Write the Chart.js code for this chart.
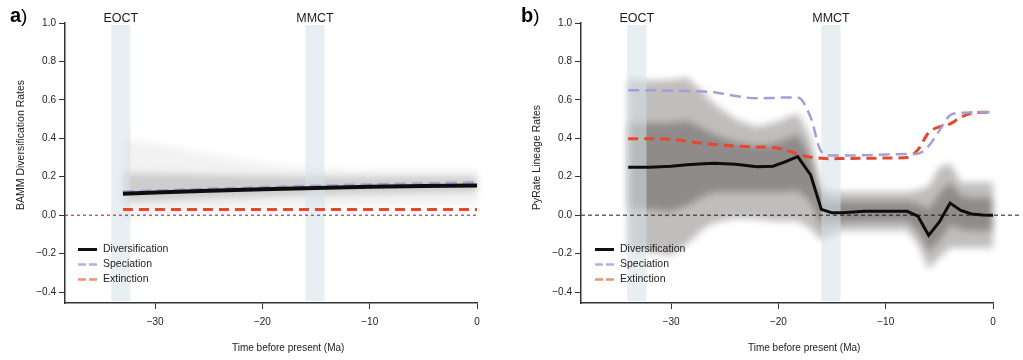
<!DOCTYPE html>
<html>
<head>
<meta charset="utf-8">
<script src="https://cdn.jsdelivr.net/npm/chart.js@4.4.1/dist/chart.umd.min.js"></script>
<style>
  html, body { margin: 0; padding: 0; background: #fff; }
  #wrap { position: relative; width: 1023px; height: 360px; }
  .panel { position: absolute; top: 0; height: 360px; }
  .panel canvas { position: absolute; left: 0; top: 0; }
  .fan { filter: blur(3.5px); }
</style>
</head>
<body>
<div id="wrap">
  <div class="panel" style="left:0;width:511px">
    <canvas id="fanA" class="fan" width="511" height="360"></canvas>
    <canvas id="chartA" width="511" height="360"></canvas>
  </div>
  <div class="panel" style="left:511px;width:512px">
    <canvas id="fanB" class="fan" width="512" height="360"></canvas>
    <canvas id="chartB" width="512" height="360"></canvas>
  </div>
</div>
<script>
// Axis ticks
const xTicks = [-30, -20, -10, 0];
const yTicks = [-0.4, -0.2, 0, 0.2, 0.4, 0.6, 0.8, 1.0];

// Climate events (Ma)
const eventNames = ['EOCT', 'MMCT'];
const eventStart = [-34.1, -16.0];
const eventEnd = [-32.3, -14.2];

const seriesNames = ['Diversification', 'Speciation', 'Extinction'];

// a) BAMM rates
const aTime = [-33, -30, -25, -20, -15, -10, -5, 0];
const aDiv  = [0.112, 0.118, 0.127, 0.135, 0.142, 0.148, 0.152, 0.155];
const aSpec = [0.122, 0.128, 0.137, 0.145, 0.153, 0.16, 0.165, 0.17];
const aExt  = [0.03, 0.03, 0.03, 0.03, 0.03, 0.03, 0.03, 0.03];
const aOuterHi = [0.40, 0.37, 0.32, 0.27, 0.24, 0.235, 0.235, 0.235];
const aOuterLo = [-0.03, 0.0, 0.02, 0.03, 0.04, 0.045, 0.05, 0.05];
const aInnerHi = [0.22, 0.215, 0.21, 0.205, 0.2, 0.2, 0.2, 0.2];
const aInnerLo = [0.07, 0.075, 0.085, 0.095, 0.105, 0.11, 0.115, 0.12];

// b) PyRate rates
const bTime = [-34, -32, -30, -28.5, -27, -26, -24, -22, -20.5, -19.5, -18.2, -17, -16,
               -15, -14, -12, -10, -8, -7, -6, -5, -4, -3, -2, -1, 0];
const bDiv  = [0.25, 0.25, 0.255, 0.262, 0.268, 0.27, 0.265, 0.252, 0.255, 0.275, 0.305, 0.21, 0.03,
               0.012, 0.012, 0.02, 0.02, 0.02, -0.005, -0.105, -0.035, 0.063, 0.025, 0.006, 0.001, 0.0];
const bSpec = [0.65, 0.65, 0.648, 0.646, 0.643, 0.64, 0.62, 0.608, 0.61, 0.612, 0.612, 0.51, 0.33,
               0.31, 0.31, 0.312, 0.316, 0.318, 0.32, 0.36, 0.44, 0.52, 0.532, 0.535, 0.536, 0.536];
const bExt  = [0.398, 0.398, 0.395, 0.385, 0.373, 0.368, 0.36, 0.355, 0.352, 0.342, 0.318, 0.302, 0.296,
               0.294, 0.295, 0.296, 0.297, 0.30, 0.34, 0.43, 0.46, 0.475, 0.51, 0.53, 0.535, 0.535];
const bOuterHi = [0.71, 0.70, 0.705, 0.715, 0.64, 0.58, 0.50, 0.46, 0.48, 0.50, 0.53, 0.40, 0.14,
                  0.12, 0.12, 0.12, 0.12, 0.12, 0.13, 0.15, 0.25, 0.27, 0.17, 0.17, 0.17, 0.17];
const bOuterLo = [-0.18, -0.19, -0.21, -0.15, -0.07, -0.04, -0.015, -0.02, -0.03, -0.03, -0.03, -0.07, -0.13,
                  -0.10, -0.08, -0.08, -0.08, -0.08, -0.15, -0.28, -0.22, -0.17, -0.17, -0.17, -0.17, -0.17];
const bInnerHi = [0.48, 0.48, 0.48, 0.49, 0.45, 0.42, 0.38, 0.36, 0.37, 0.39, 0.42, 0.30, 0.09,
                  0.07, 0.07, 0.07, 0.07, 0.07, 0.06, 0.03, 0.11, 0.17, 0.10, 0.09, 0.09, 0.09];
const bInnerLo = [0.03, 0.03, 0.02, 0.05, 0.10, 0.12, 0.12, 0.12, 0.12, 0.12, 0.13, 0.07, -0.05,
                  -0.04, -0.035, -0.03, -0.03, -0.03, -0.08, -0.19, -0.13, -0.05, -0.07, -0.08, -0.08, -0.08];

const X_MIN = -38.4, X_MAX = 0;
const Y_MIN = -0.457, Y_MAX = 1.0;
const FONT = '"Liberation Sans", Arial, Helvetica, sans-serif';

function pts(time, vals) {
  return time.map((t, i) => ({ x: t, y: vals[i] }));
}

function minus(s) {
  return s.replace('-', '\u2212');
}

function band(time, vals, color, fill) {
  return {
    data: pts(time, vals),
    fill: fill,
    backgroundColor: color || 'transparent',
    borderColor: 'transparent',
    borderWidth: 0,
    pointRadius: 0
  };
}

// Decorations: event bands, zero line, legend, titles
function decorPlugin(p) {
  return {
    id: 'decor',
    beforeDatasetsDraw(chart) {
      const { ctx, chartArea, scales: { x, y } } = chart;
      ctx.save();
      eventNames.forEach((name, i) => {
        const x0 = x.getPixelForValue(eventStart[i]);
        const x1 = x.getPixelForValue(eventEnd[i]);
        ctx.fillStyle = 'rgba(214, 226, 232, 0.55)';
        ctx.fillRect(x0, chartArea.top + 2, x1 - x0, chartArea.bottom - chartArea.top - 4);
        ctx.fillStyle = '#1a1a1a';
        ctx.font = '12.5px ' + FONT;
        ctx.textAlign = 'center';
        ctx.textBaseline = 'alphabetic';
        ctx.fillText(name, (x0 + x1) / 2, 22);
      });
      const y0 = y.getPixelForValue(0);
      ctx.strokeStyle = p.zeroColor;
      ctx.lineWidth = 1;
      ctx.setLineDash(p.zeroDash);
      ctx.beginPath();
      ctx.moveTo(chartArea.left, y0);
      ctx.lineTo(p.zeroEnd || chartArea.right, y0);
      ctx.stroke();
      ctx.restore();
    },
    afterDraw(chart) {
      const { ctx, scales: { x } } = chart;
      ctx.save();
      // legend
      const styles = [
        { color: '#111', dash: [], width: 3 },
        { color: '#b3afe0', dash: [8, 3], width: 2.5 },
        { color: '#f29070', dash: [8, 3], width: 2.5 }
      ];
      seriesNames.forEach((name, i) => {
        const yy = 249.5 + i * 15;
        ctx.strokeStyle = styles[i].color;
        ctx.lineWidth = styles[i].width;
        ctx.setLineDash(styles[i].dash);
        ctx.beginPath();
        ctx.moveTo(p.legendX, yy);
        ctx.lineTo(p.legendX + 19, yy);
        ctx.stroke();
        ctx.fillStyle = '#222';
        ctx.font = '10.5px ' + FONT;
        ctx.textAlign = 'left';
        ctx.textBaseline = 'middle';
        ctx.fillText(name, p.legendX + 25, yy);
      });
      // x title
      ctx.fillStyle = '#222';
      ctx.font = '10px ' + FONT;
      ctx.textAlign = 'center';
      ctx.textBaseline = 'middle';
      ctx.fillText('Time before present (Ma)', x.getPixelForValue(-17.6), 348);
      // y title
      ctx.save();
      ctx.translate(p.yTitleX, 210);
      ctx.rotate(-Math.PI / 2);
      ctx.textAlign = 'left';
      ctx.font = '10.5px ' + FONT;
      ctx.fillText(p.yTitle, 0, 0);
      ctx.restore();
      // panel letter
      ctx.fillStyle = '#000';
      ctx.textAlign = 'left';
      ctx.textBaseline = 'alphabetic';
      ctx.font = 'bold 20px ' + FONT;
      ctx.fillText(p.letter, 10, 22);
      const w = ctx.measureText(p.letter).width;
      ctx.font = '19px ' + FONT;
      ctx.fillText(')', 10 + w, 22);
      ctx.restore();
    }
  };
}

function buildPanel(p) {
  new Chart(document.getElementById(p.fanId), {
    type: 'line',
    data: {
      datasets: [
        band(p.time, p.innerHi, p.innerFill, '+1'),
        band(p.time, p.innerLo, null, false),
        band(p.time, p.outerHi, p.outerFill, '+1'),
        band(p.time, p.outerLo, null, false)
      ]
    },
    options: {
      responsive: false,
      animation: false,
      events: [],
      layout: { padding: { left: p.left, right: p.right, top: 23, bottom: 57 } },
      plugins: { legend: { display: false }, tooltip: { enabled: false } },
      scales: {
        x: { type: 'linear', display: false, min: X_MIN, max: X_MAX },
        y: { display: false, min: Y_MIN, max: Y_MAX }
      }
    }
  });

  new Chart(document.getElementById(p.chartId), {
    type: 'line',
    data: {
      datasets: [
        {
          label: seriesNames[0], data: pts(p.time, p.div),
          borderColor: '#0d0d0d', borderWidth: p.divWidth, pointRadius: 0, tension: 0, fill: false
        },
        {
          label: seriesNames[1], data: pts(p.time, p.spec),
          borderColor: '#a39fd6', borderWidth: 2.5, borderDash: [11, 6],
          pointRadius: 0, cubicInterpolationMode: 'monotone', fill: false
        },
        {
          label: seriesNames[2], data: pts(p.time, p.ext),
          borderColor: '#e8472c', borderWidth: 3, borderDash: [10, 6],
          pointRadius: 0, cubicInterpolationMode: 'monotone', fill: false
        }
      ]
    },
    options: {
      responsive: false,
      animation: false,
      events: [],
      layout: { padding: { left: 0, right: p.right, top: 23, bottom: 0 } },
      plugins: { legend: { display: false }, tooltip: { enabled: false } },
      scales: {
        x: {
          type: 'linear', min: X_MIN, max: X_MAX,
          afterBuildTicks: s => { s.ticks = xTicks.map(v => ({ value: v })); },
          afterFit: s => { s.height = 57; },
          grid: { drawOnChartArea: false, drawTicks: true, tickLength: 6, color: '#333' },
          border: { display: true, color: '#333', width: 1.5 },
          ticks: {
            autoSkip: false, maxRotation: 0, padding: 7, color: '#222',
            font: { family: FONT, size: 10 },
            callback: v => minus(String(v))
          }
        },
        y: {
          min: Y_MIN, max: Y_MAX,
          afterBuildTicks: s => { s.ticks = yTicks.map(v => ({ value: v })); },
          afterFit: s => { s.width = p.left; },
          grid: { drawOnChartArea: false, drawTicks: true, tickLength: 6, color: '#333' },
          border: { display: true, color: '#333', width: 1.5 },
          ticks: {
            autoSkip: false, padding: 3, color: '#222',
            font: { family: FONT, size: 10 },
            callback: v => minus(Number(v).toFixed(1))
          }
        }
      }
    },
    plugins: [decorPlugin(p)]
  });
}

buildPanel({
  fanId: 'fanA', chartId: 'chartA', letter: 'a',
  left: 65, right: 34,
  time: aTime, div: aDiv, spec: aSpec, ext: aExt,
  outerHi: aOuterHi, outerLo: aOuterLo, innerHi: aInnerHi, innerLo: aInnerLo,
  outerFill: 'rgba(190, 190, 190, 0.2)', innerFill: 'rgba(120, 120, 120, 0.3)',
  divWidth: 4,
  zeroColor: '#8b2020', zeroDash: [3, 3],
  legendX: 78, yTitleX: 21, yTitle: 'BAMM Diversification Rates'
});

buildPanel({
  fanId: 'fanB', chartId: 'chartB', letter: 'b',
  left: 70, right: 30,
  time: bTime, div: bDiv, spec: bSpec, ext: bExt,
  outerHi: bOuterHi, outerLo: bOuterLo, innerHi: bInnerHi, innerLo: bInnerLo,
  outerFill: 'rgba(140, 135, 135, 0.55)', innerFill: 'rgba(95, 90, 90, 0.5)',
  divWidth: 3,
  zeroColor: '#2a1515', zeroDash: [4, 3], zeroEnd: 509,
  legendX: 84, yTitleX: 26, yTitle: 'PyRate Lineage Rates'
});
</script>
</body>
</html>
